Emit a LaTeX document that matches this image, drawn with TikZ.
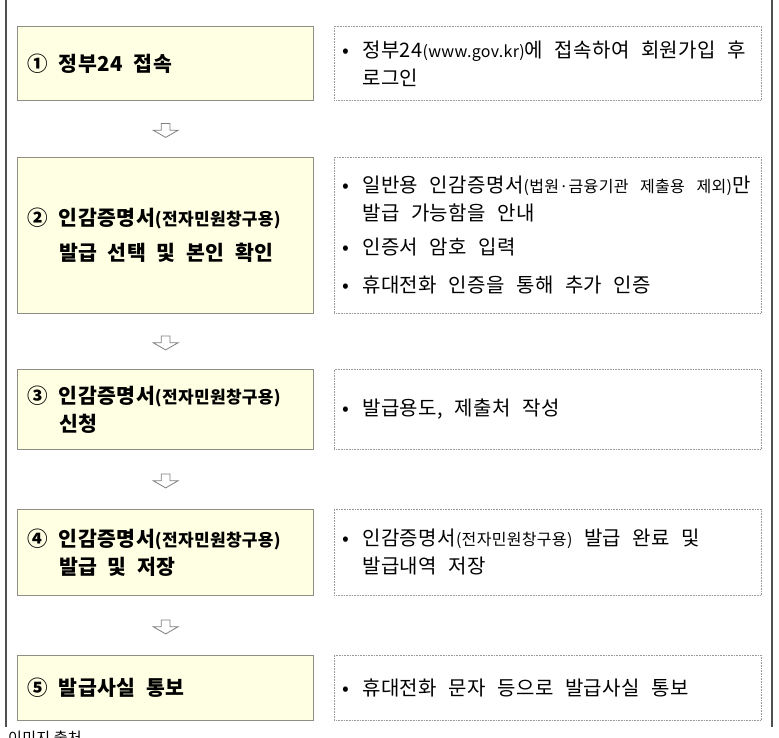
\documentclass[tikz,border=0pt]{standalone}
\usepackage{fontspec}
\setmainfont{Noto Sans CJK KR}[LetterSpace=2]
\usetikzlibrary{shapes.arrows,calc}

\definecolor{boxfill}{HTML}{FFFFE3}
\definecolor{boxline}{HTML}{8E8E86}
\definecolor{noteline}{HTML}{9A9A9A}
\definecolor{rulegray}{HTML}{505050}

\newcommand{\bul}{\hspace*{2pt}\makebox[20pt][l]{•}}
\newcommand{\ind}{\hspace*{22pt}}
\newcommand{\sm}[1]{{\fontsize{16}{16}\selectfont #1}}
\newcommand{\smb}[1]{{\fontsize{17}{17}\selectfont #1}}

\tikzset{
  stepbox/.style={draw=boxline, fill=boxfill, line width=1.3pt, anchor=north west,
    inner xsep=10pt, text width=276pt, align=left,
    font=\bfseries\fontsize{20.5}{28}\selectfont,
    execute at begin node={\spaceskip=0.53em\relax}},
  notebox/.style={draw=noteline, line width=0.8pt, dash pattern=on 1pt off 0.6pt,
    anchor=north west, inner xsep=6pt, text width=415pt, align=left,
    font=\fontsize{20}{28}\selectfont,
    execute at begin node={\spaceskip=0.58em\relax}},
  downarrow/.style={single arrow, draw=gray, fill=white, line width=0.8pt,
    shape border rotate=270, inner sep=4pt, minimum width=24pt, minimum height=14pt,
    single arrow head extend=8pt, single arrow tip angle=120}
}

\begin{document}
\begin{tikzpicture}[x=1pt, y=-1pt]
  \useasboundingbox (0,0) rectangle (779,738);
  % \draw[step=50, gray!30, very thin] (0,0) grid (779,738);

  % side rules
  \draw[rulegray, line width=1.5pt] (6,0) -- (6,727);
  \draw[rulegray, line width=1.5pt] (772,0) -- (772,727);

  % steps
  \node[stepbox, minimum height=74pt] (s1) at (17,26) {① 정부24 접속};
  \node[stepbox, minimum height=156pt] (s2) at (17,157)
    {② 인감증명서\smb{(전자민원창구용)}\\[7pt]\hphantom{②} 발급 선택 및 본인 확인};
  \node[stepbox, minimum height=80pt] (s3) at (17,369)
    {③ 인감증명서\smb{(전자민원창구용)}\\\hphantom{③} 신청};
  \node[stepbox, minimum height=86pt] (s4) at (17,509)
    {④ 인감증명서\smb{(전자민원창구용)}\\\hphantom{④} 발급 및 저장};
  \node[stepbox, minimum height=65pt] (s5) at (17,655) {⑤ 발급사실 통보};

  % notes
  \node[notebox, minimum height=74pt] (n1) at (334,26)
    {\bul 정부24\sm{(www.gov.kr)}에 접속하여 회원가입 후\\\ind 로그인};
  \node[notebox, minimum height=156pt] (n2) at (334,157)
    {\bul 일반용 인감증명서\sm{(법원·금융기관 제출용 제외)}만\\\ind 발급 가능함을 안내\\[6pt]%
     \bul 인증서 암호 입력\\[10pt]\bul 휴대전화 인증을 통해 추가 인증};
  \node[notebox, minimum height=80pt] (n3) at (334,369) {\bul 발급용도, 제출처 작성};
  \node[notebox, minimum height=86pt] (n4) at (334,509)
    {\bul 인감증명서\sm{(전자민원창구용)} 발급 완료 및\\\ind 발급내역 저장};
  \node[notebox, minimum height=65pt] (n5) at (334,655) {\bul 휴대전화 문자 등으로 발급사실 통보};

  % arrows between steps
  \foreach \a/\b [count=\i] in {s1/s2,s2/s3,s3/s4,s4/s5} {
      \node[downarrow] (a\i) at ($(\a.south)!.5!(\b.north)$) {};
    }

  \node[anchor=north west, inner sep=0pt, font=\fontsize{15}{15}\selectfont] (src) at (8,731) {이미지 출처};
\end{tikzpicture}
\end{document}
